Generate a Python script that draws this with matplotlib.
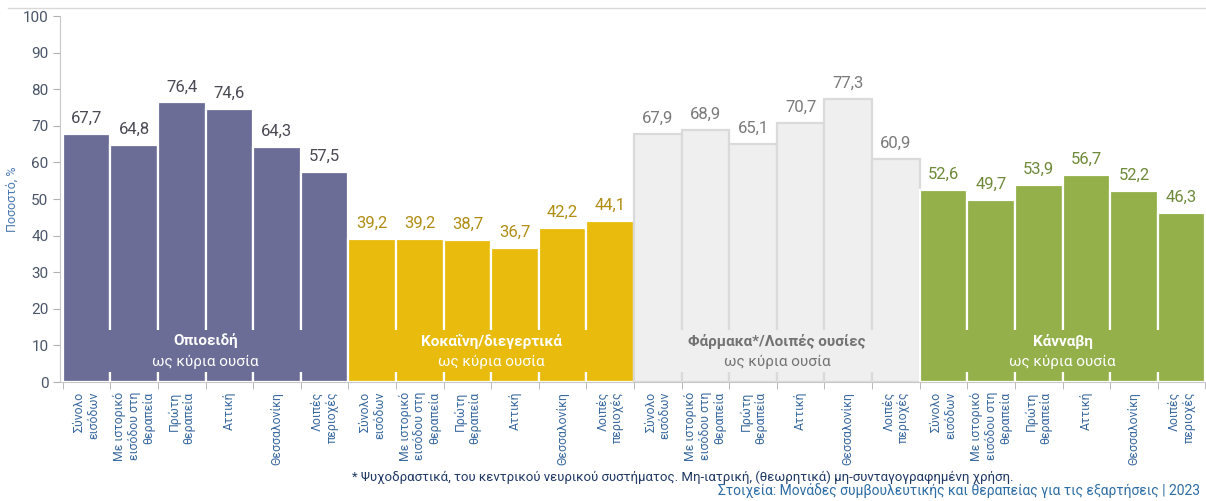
import numpy as np
import matplotlib
matplotlib.use('Agg')
import matplotlib.pyplot as plt
from matplotlib.patches import Rectangle

plt.rcParams['font.family'] = ['Roboto', 'DejaVu Sans']

# data
groups = ['Οπιοειδή', 'Κοκαΐνη/διεγερτικά', 'Φάρμακα*/Λοιπές ουσίες', 'Κάνναβη']
subtitle = 'ως κύρια ουσία'
categories = ['Σύνολο\nεισόδων', 'Με ιστορικό\nεισόδου στη\nθεραπεία', 'Πρώτη\nθεραπεία',
              'Αττική', 'Θεσσαλονίκη', 'Λοιπές\nπεριοχές']
opioids = [67.7, 64.8, 76.4, 74.6, 64.3, 57.5]
cocaine = [39.2, 39.2, 38.7, 36.7, 42.2, 44.1]
medicines = [67.9, 68.9, 65.1, 70.7, 77.3, 60.9]
cannabis = [52.6, 49.7, 53.9, 56.7, 52.2, 46.3]
series = [opioids, cocaine, medicines, cannabis]

bar_cols = ['#6b6d96', '#e8bb0c', '#efefef', '#93b04a']
edge_cols = ['white', 'white', '#dadada', 'white']
val_cols = ['#4a4a55', '#b08d14', '#7a7a7a', '#6e8a3a']
grp_txt = ['white', 'white', '#737373', 'white']

fig = plt.figure(figsize=(12.06, 5.01), dpi=100)
ax = fig.add_axes([0.05, 0.2375, 0.9495, 0.7305])

n = len(categories)
for g, vals in enumerate(series):
    x = np.arange(n) + g * n
    ax.bar(x, vals, width=1.0, color=bar_cols[g], edgecolor=edge_cols[g], linewidth=1.6, zorder=2)
    for xi, v in zip(x, vals):
        ax.text(xi, v + 2.2, f'{v:.1f}'.replace('.', ','), ha='center', va='bottom',
                fontsize=12, color=val_cols[g])
    # band behind the group label
    ax.add_patch(Rectangle((g * n - 0.45, 2.7), n - 0.1, 11.4, facecolor=bar_cols[g],
                           edgecolor='none', zorder=3))
    cx = g * n + (n - 1) / 2
    ax.text(cx, 11.2, groups[g], ha='center', va='center', fontsize=11, fontweight='bold',
            color=grp_txt[g], zorder=4)
    ax.text(cx, 5.6, subtitle, ha='center', va='center', fontsize=11, color=grp_txt[g], zorder=4)

ax.set_xlim(-0.55, 4 * n - 0.5)
ax.set_ylim(0, 100)
ax.set_yticks(np.arange(0, 101, 10))
ax.tick_params(axis='y', colors='#b0b0b0', labelcolor='#4a5568', labelsize=11, length=5)
ax.set_xticks(np.arange(4 * n))
ax.set_xticklabels(categories * 4, rotation=90, ha='center', va='top', multialignment='right',
                   fontsize=8.8, color='#3b6aa0', linespacing=1.15)
ax.tick_params(axis='x', length=0, pad=7)
ax.set_xticks(np.arange(4 * n + 1) - 0.5, minor=True)
ax.tick_params(axis='x', which='minor', length=5, color='#b0b0b0')
for s in ['top', 'right']:
    ax.spines[s].set_visible(False)
ax.spines['left'].set_color('#c8c8c8')
ax.spines['bottom'].set_color('#c8c8c8')
ax.set_ylabel('Ποσοστό, %', fontsize=9, color='#4a78b0')
ax.yaxis.set_label_coords(-0.036, 0.5)

# header rule and footer notes
fig.add_artist(plt.Line2D([0.007, 1.0], [0.985, 0.985], color='#d8d8d8', linewidth=1))
fig.text(0.292, 0.048, '* Ψυχοδραστικά, του κεντρικού νευρικού συστήματος. Μη-ιατρική, (θεωρητικά) μη-συνταγογραφημένη χρήση.',
         fontsize=9.5, color='#1f3864', ha='left', va='center')
fig.text(0.995, 0.02, 'Στοιχεία: Μονάδες συμβουλευτικής και θεραπείας για τις εξαρτήσεις | 2023',
         fontsize=10, color='#2e6da4', ha='right', va='center')

fig.savefig('out.png', dpi=100)
